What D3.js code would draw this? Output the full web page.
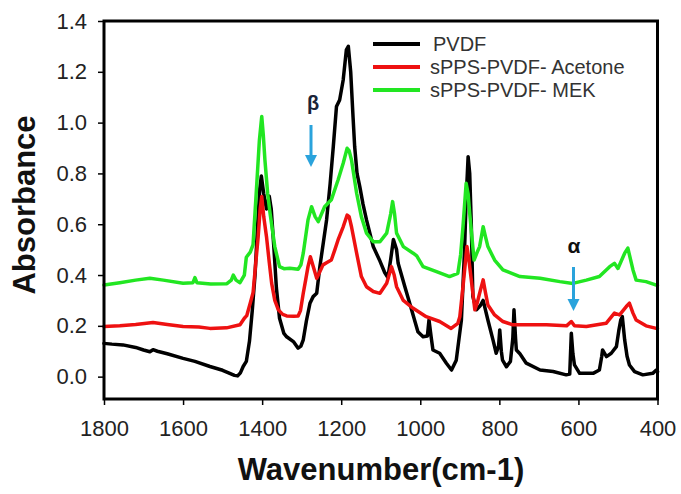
<!DOCTYPE html>
<html>
<head>
<meta charset="utf-8">
<script src="https://cdn.jsdelivr.net/npm/d3@7"></script>
<style>
  html, body { margin: 0; padding: 0; background: #fff; }
  svg { display: block; font-family: Arial, "Liberation Sans", sans-serif; }
</style>
</head>
<body>
<svg id="chart" width="681" height="494"></svg>
<script>
// ---------------- data ----------------
const xTicks = [1800, 1600, 1400, 1200, 1000, 800, 600, 400];
const yTicks = [0.0, 0.2, 0.4, 0.6, 0.8, 1.0, 1.2, 1.4];
const seriesNames = [" PVDF", "sPPS-PVDF- Acetone", "sPPS-PVDF- MEK"];
const seriesColors = ["#000000", "#ee1111", "#22e622"];

const pvdfWn = [1800,1780,1752,1720,1700,1684,1676,1665,1640,1600,1570,1532,1500,1470,1462,1455,1448,1440,1432,1425,1418,1412,1406,1402,1396,1389,1382,1377,1370,1364,1356,1345,1338,1321,1309,1302,1296,1288,1279,1271,1262,1254,1245,1237,1228,1220,1212,1204,1195,1187,1182,1176,1170,1166,1160,1153,1145,1136,1119,1102,1090,1082,1075,1068,1060,1056,1039,1022,1006,993,982,978,972,968,951,934,921,909,896,888,884,879,875,871,867,858,848,841,829,816,808,802,799,795,792,782,772,766,763,759,757,748,732,697,664,631,622,618,614,610,597,563,547,541,539,529,517,504,498,493,489,483,477,471,458,437,412,403,400];
const pvdfAbs = [0.131,0.128,0.125,0.115,0.105,0.098,0.106,0.100,0.090,0.072,0.060,0.040,0.025,0.005,0.003,0.015,0.040,0.060,0.140,0.260,0.400,0.580,0.740,0.790,0.720,0.660,0.710,0.660,0.500,0.350,0.230,0.170,0.157,0.138,0.112,0.120,0.145,0.220,0.289,0.315,0.328,0.433,0.530,0.617,0.760,0.906,1.063,1.089,1.168,1.286,1.300,1.200,1.020,0.906,0.800,0.748,0.680,0.617,0.512,0.455,0.410,0.390,0.460,0.540,0.500,0.446,0.354,0.263,0.177,0.157,0.160,0.223,0.150,0.105,0.092,0.053,0.026,0.065,0.223,0.500,0.700,0.866,0.800,0.600,0.315,0.263,0.280,0.300,0.223,0.144,0.092,0.120,0.184,0.100,0.065,0.039,0.060,0.150,0.263,0.150,0.105,0.090,0.053,0.026,0.020,0.007,0.010,0.171,0.090,0.046,0.013,0.013,0.026,0.080,0.105,0.079,0.092,0.118,0.180,0.223,0.236,0.144,0.080,0.046,0.020,0.007,0.013,0.026,0.020];

const acetoneWn = [1800,1760,1720,1676,1640,1600,1560,1532,1490,1456,1445,1439,1430,1423,1416,1410,1405,1401,1396,1389,1382,1376,1368,1359,1348,1338,1320,1309,1303,1296,1290,1284,1278,1270,1262,1255,1246,1235,1225,1216,1208,1195,1185,1180,1174,1161,1149,1136,1119,1102,1085,1073,1066,1060,1043,1018,985,951,922,905,900,892,882,877,873,862,856,850,841,835,829,812,791,766,748,681,630,618,610,580,530,509,496,479,471,462,454,429,403,400];
const acetoneAbs = [0.197,0.200,0.205,0.213,0.205,0.197,0.195,0.190,0.192,0.204,0.230,0.240,0.290,0.330,0.450,0.551,0.660,0.709,0.630,0.551,0.450,0.368,0.300,0.263,0.245,0.239,0.238,0.239,0.260,0.328,0.380,0.433,0.472,0.430,0.387,0.410,0.440,0.450,0.459,0.500,0.538,0.590,0.636,0.630,0.590,0.486,0.394,0.354,0.335,0.328,0.368,0.433,0.400,0.354,0.300,0.269,0.236,0.217,0.190,0.210,0.236,0.354,0.512,0.460,0.407,0.263,0.290,0.328,0.381,0.330,0.282,0.243,0.217,0.204,0.204,0.204,0.200,0.217,0.200,0.197,0.210,0.250,0.243,0.276,0.289,0.250,0.223,0.200,0.190,0.190];

const mekWn = [1800,1760,1720,1684,1650,1600,1575,1570,1565,1530,1489,1478,1473,1466,1456,1445,1440,1430,1423,1414,1407,1401,1397,1393,1386,1380,1368,1356,1345,1330,1309,1302,1296,1284,1275,1266,1258,1250,1242,1225,1208,1195,1185,1180,1174,1161,1149,1136,1119,1102,1085,1075,1070,1065,1060,1043,1018,1009,993,959,926,905,898,892,884,879,875,864,856,850,841,835,829,812,791,748,697,647,614,580,547,521,509,500,483,475,462,454,429,403,400];
const mekAbs = [0.361,0.370,0.380,0.387,0.380,0.368,0.370,0.390,0.370,0.365,0.366,0.380,0.400,0.380,0.370,0.400,0.470,0.490,0.520,0.748,0.930,1.024,0.950,0.853,0.720,0.643,0.512,0.433,0.425,0.427,0.423,0.440,0.486,0.617,0.669,0.630,0.610,0.640,0.669,0.696,0.774,0.840,0.899,0.890,0.853,0.722,0.630,0.565,0.531,0.531,0.565,0.640,0.689,0.640,0.565,0.512,0.486,0.475,0.433,0.413,0.394,0.407,0.480,0.590,0.761,0.720,0.643,0.459,0.490,0.512,0.590,0.550,0.512,0.459,0.420,0.394,0.387,0.374,0.367,0.380,0.394,0.433,0.446,0.426,0.486,0.506,0.420,0.380,0.374,0.360,0.360];

const xLabel = "Wavenumber(cm-1)";
const yLabel = "Absorbance";
const betaLabel = "β";
const alphaLabel = "α";

// ---------------- chart ----------------
const svg = d3.select("#chart");
const plotLeft = 104, plotRight = 657.5, plotTop = 21, plotBottom = 399;

const x = d3.scaleLinear().domain([1800, 400]).range([plotLeft, plotRight]);
const y = d3.scaleLinear().domain([-0.088, 1.4]).range([plotBottom, plotTop]);

const series = [
  { wn: pvdfWn, abs: pvdfAbs },
  { wn: acetoneWn, abs: acetoneAbs },
  { wn: mekWn, abs: mekAbs }
].map((s, i) => ({
  name: seriesNames[i],
  color: seriesColors[i],
  points: s.wn.map((w, j) => ({ w: w, a: s.abs[j] }))
}));

const line = d3.line()
  .x(d => x(d.w))
  .y(d => y(d.a))
  .curve(d3.curveLinear);

const plot = svg.append("g");
series.forEach(s => {
  plot.append("path")
    .datum(s.points)
    .attr("fill", "none")
    .attr("stroke", s.color)
    .attr("stroke-width", 3.5)
    .attr("stroke-linejoin", "round")
    .attr("stroke-linecap", "round")
    .attr("d", line);
});

const xAxis = d3.axisBottom(x).tickValues(xTicks).tickFormat(d3.format("d"))
  .tickSize(6).tickPadding(15);
const yAxis = d3.axisLeft(y).tickValues(yTicks).tickFormat(d3.format(".1f"))
  .tickSize(6).tickPadding(11);

const gx = svg.append("g").attr("transform", `translate(0,${plotBottom})`).call(xAxis);
const gy = svg.append("g").attr("transform", `translate(${plotLeft},0)`).call(yAxis);
[gx, gy].forEach(g => {
  g.select(".domain").remove();
  g.selectAll(".tick line").attr("stroke", "#000").attr("stroke-width", 1.5);
  g.selectAll(".tick text")
    .attr("fill", "#222")
    .style("font-size", "22px")
    .style("font-family", "Arial, 'Liberation Sans', sans-serif");
});

svg.append("rect")
  .attr("x", plotLeft).attr("y", plotTop)
  .attr("width", plotRight - plotLeft).attr("height", plotBottom - plotTop)
  .attr("fill", "none").attr("stroke", "#000").attr("stroke-width", 3);

svg.append("text")
  .attr("x", 381).attr("y", 480)
  .attr("text-anchor", "middle")
  .style("font-size", "31px").style("font-weight", "bold")
  .attr("fill", "#111")
  .text(xLabel);

svg.append("text")
  .attr("transform", "translate(35,205) rotate(-90)")
  .attr("text-anchor", "middle")
  .style("font-size", "31px").style("font-weight", "bold")
  .attr("fill", "#111")
  .text(yLabel);

const legendY = [44, 67, 90];
const legendTextX = [433, 430, 430];
series.forEach((s, i) => {
  svg.append("line")
    .attr("x1", 373).attr("x2", 420)
    .attr("y1", legendY[i]).attr("y2", legendY[i])
    .attr("stroke", s.color).attr("stroke-width", 4);
  svg.append("text")
    .attr("x", legendTextX[i]).attr("y", legendY[i] + 7)
    .style("font-size", "20px")
    .attr("fill", "#333")
    .text(s.name.trim());
});

const arrowColor = "#2aa3dc";
function arrow(xc, y1, y2) {
  svg.append("line")
    .attr("x1", xc).attr("x2", xc)
    .attr("y1", y1).attr("y2", y2 - 9)
    .attr("stroke", arrowColor).attr("stroke-width", 3);
  svg.append("path")
    .attr("d", `M${xc - 6},${y2 - 12} L${xc + 6},${y2 - 12} L${xc},${y2} Z`)
    .attr("fill", arrowColor);
}
svg.append("text")
  .attr("x", 313).attr("y", 110)
  .attr("text-anchor", "middle")
  .style("font-size", "20px").style("font-weight", "bold")
  .attr("fill", "#1b2438")
  .text(betaLabel);
arrow(311, 125, 167);

svg.append("text")
  .attr("x", 574).attr("y", 253)
  .attr("text-anchor", "middle")
  .style("font-size", "21px").style("font-weight", "bold")
  .attr("fill", "#111")
  .text(alphaLabel);
arrow(573.5, 267, 311);
</script>
</body>
</html>
